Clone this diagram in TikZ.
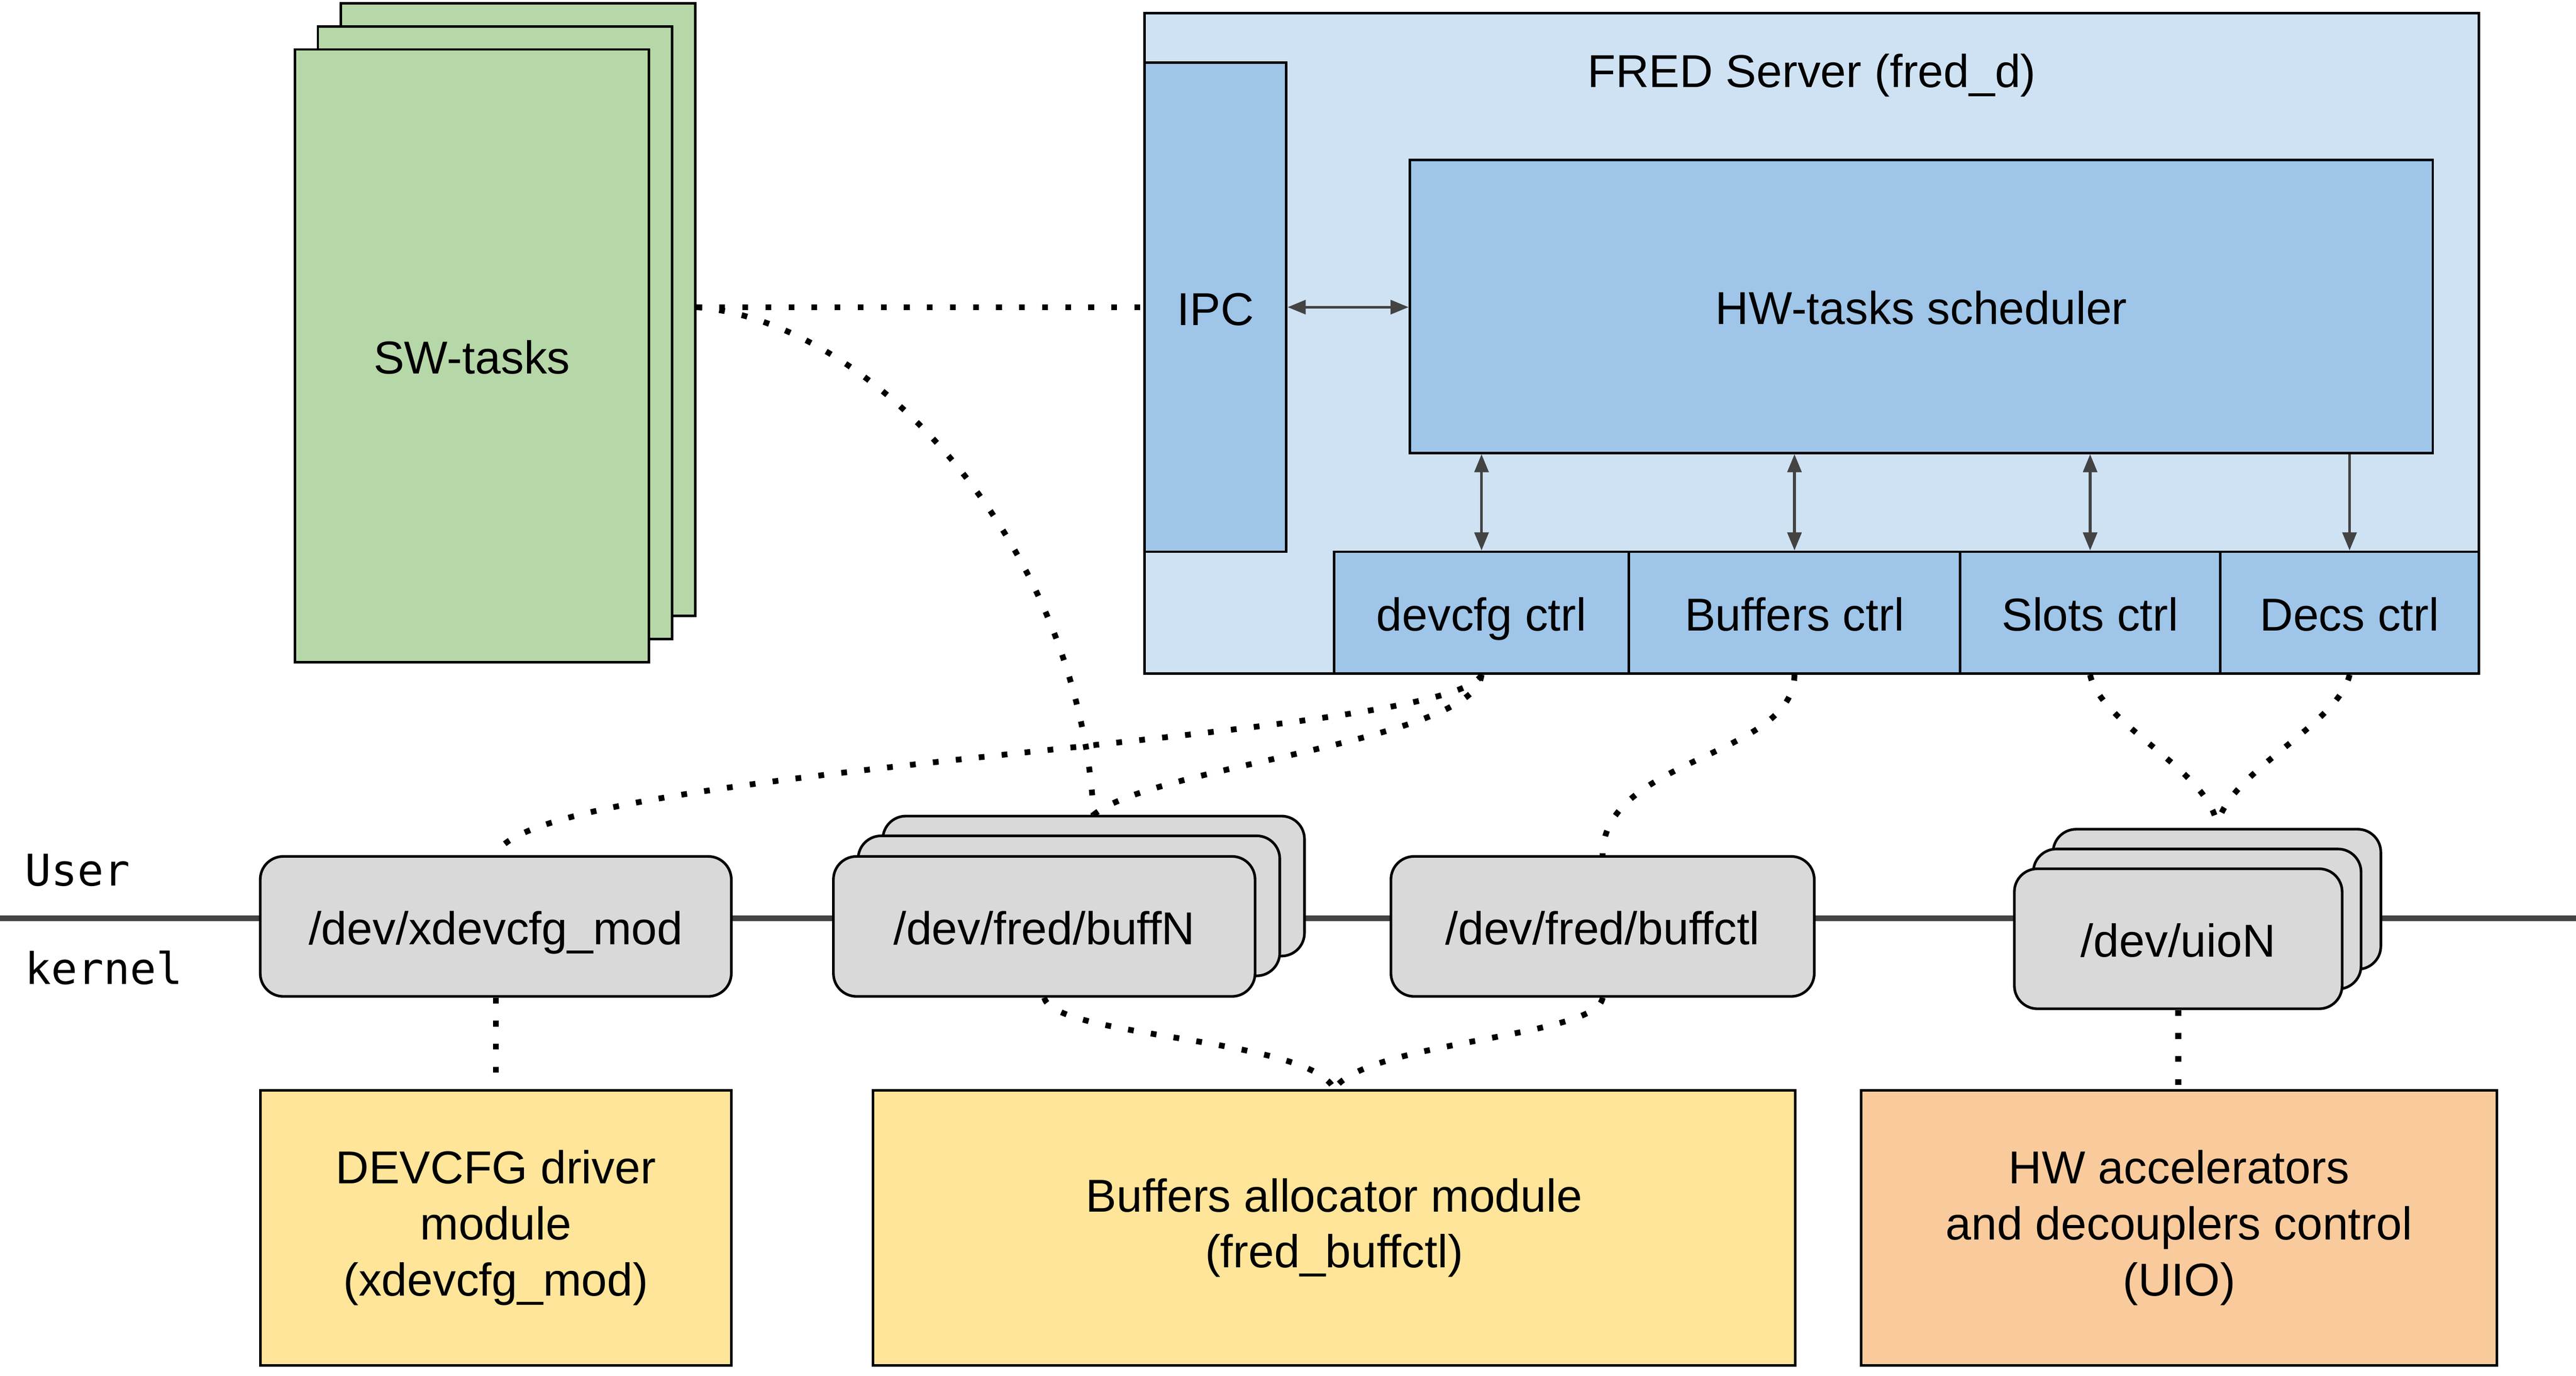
\documentclass[tikz,border=0pt]{standalone}
\usepackage{fontspec}
\setmainfont{Liberation Sans}
\setmonofont{DejaVu Sans Mono}
\usepackage{tikz, xcolor}
\usetikzlibrary{shapes,arrows.meta}
\definecolor{srvblue}{HTML}{CFE2F3}
\definecolor{modblue}{HTML}{9FC5E8}
\definecolor{swgreen}{HTML}{B6D7A8}
\definecolor{devgray}{HTML}{D9D9D9}
\definecolor{modyellow}{HTML}{FFE599}
\definecolor{hworange}{HTML}{F9CB9C}
\definecolor{arrgray}{HTML}{434343}

\begin{document}
\begin{tikzpicture}[x=1pt, y=-1pt, >={Triangle[length=11pt,width=8.5pt]}, font=\fontsize{28}{34}\selectfont]
\tikzstyle{boxr}=[rectangle, draw=black, line width=1.5pt, inner sep=0pt, text height=27pt, text depth=5pt]
\tikzstyle{boxm}=[rectangle, draw=black, line width=1.5pt, inner sep=0pt, align=center, minimum height=167pt]
\tikzstyle{boxd}=[rectangle, rounded corners=14pt, draw=black, line width=1.6pt, fill=devgray, inner sep=0pt, minimum height=85pt, text height=27pt, text depth=5pt]
\tikzstyle{monotext}=[anchor=base west, inner sep=0pt, font=\ttfamily\fontsize{26.5}{30}\selectfont]
\tikzstyle{dotstyle}=[line width=3.5pt, dash pattern=on 3.5pt off 10.5pt]
\tikzstyle{drawstyle}=[line width=1.7pt, draw=arrgray]
\tikzstyle{kline}=[line width=3.5pt, draw=arrgray]

\useasboundingbox (0,0) rectangle (1564,835.3);

\coordinate (Lw) at (0,557.5);
\coordinate (Le) at (1564,557.5);
\draw[kline] (Lw) -- (Le);
\node[monotext] (User) at (15,538) {User};
\node[monotext] (Kern) at (15,597.5) {kernel};

\node[boxr, fill=swgreen, minimum width=215pt, minimum height=372pt] (Sw2) at (314.5,188) {};
\node[boxr, fill=swgreen, minimum width=215pt, minimum height=372pt] (Sw1) at (300.5,202) {};
\node[boxr, fill=swgreen, minimum width=215pt, minimum height=372pt] (Sw0) at (286.5,216) {SW-tasks};

\node[boxr, fill=srvblue, minimum width=810pt, minimum height=401pt] (Srv) at (1100,208.5) {};
\node[inner sep=0pt, text height=27pt, text depth=5pt] (Srvt) at (1100,42) {FRED Server (fred\_d)};
\node[boxr, fill=modblue, minimum width=86pt, minimum height=297pt] (Ipc) at (738,186.5) {IPC};
\node[boxr, fill=modblue, minimum width=621pt, minimum height=178pt] (Sch) at (1166.5,186) {HW-tasks scheduler};
\node[boxr, fill=modblue, minimum width=179pt, minimum height=74pt] (Ctl0) at (899.5,372) {devcfg ctrl};
\node[boxr, fill=modblue, minimum width=201pt, minimum height=74pt] (Ctl1) at (1089.5,372) {Buffers ctrl};
\node[boxr, fill=modblue, minimum width=158pt, minimum height=74pt] (Ctl2) at (1269,372) {Slots ctrl};
\node[boxr, fill=modblue, minimum width=157pt, minimum height=74pt] (Ctl3) at (1426.5,372) {Decs ctrl};
\draw[drawstyle, <->] (Ipc.east) -- (Ipc.east -| Sch.west);
\draw[drawstyle, <->] (Ctl0.north |- Sch.south) -- (Ctl0.north);
\draw[drawstyle, <->] (Ctl1.north |- Sch.south) -- (Ctl1.north);
\draw[drawstyle, <->] (Ctl2.north |- Sch.south) -- (Ctl2.north);
\draw[drawstyle, ->] (Ctl3.north |- Sch.south) -- (Ctl3.north);

\node[boxd, minimum width=286pt] (Dxd) at (301,562.5) {/dev/xdevcfg\_mod};
\node[boxd, minimum width=256pt] (Bfn2) at (664,538) {};
\node[boxd, minimum width=256pt] (Bfn1) at (649,550) {};
\node[boxd, minimum width=256pt] (Bfn0) at (634,562.5) {/dev/fred/buffN};
\node[boxd, minimum width=257pt] (Dbc) at (973,562.5) {/dev/fred/buffctl};
\node[boxd, minimum width=199pt] (Uio2) at (1346,546) {};
\node[boxd, minimum width=199pt] (Uio1) at (1334,558) {};
\node[boxd, minimum width=199pt] (Uio0) at (1322.5,570) {/dev/uioN};

\node[boxm, fill=modyellow, minimum width=286pt] (Drv) at (301,745.5) {DEVCFG driver\\module\\(xdevcfg\_mod)};
\node[boxm, fill=modyellow, minimum width=560pt] (Alc) at (810,745.5) {Buffers allocator module\\(fred\_buffctl)};
\node[boxm, fill=hworange, minimum width=386pt] (Hwa) at (1323,745.5) {HW accelerators\\and decouplers control\\(UIO)};

\draw[dotstyle] (Sw2.east |- Ipc.west) -- (Ipc.west);
\draw[dotstyle] (Sw2.east |- Ipc.west) .. controls (530,195) and (655,330) .. (Bfn2.north);
\draw[dotstyle] (Ctl0.south) .. controls (880,450) and (320,465) .. (Dxd.north);
\draw[dotstyle] (Ctl0.south) .. controls (895,450) and (700,465) .. (Bfn2.north);
\draw[dotstyle] (Ctl1.south) .. controls (1089,460) and (973,460) .. (Dbc.north);
\draw[dotstyle] (Ctl2.south) .. controls (1275,440) and (1345,470) .. (Uio2.north);
\draw[dotstyle] (Ctl3.south) .. controls (1420,440) and (1350,470) .. (Uio2.north);
\draw[dotstyle] (Dxd.south) -- (Drv.north);
\draw[dotstyle] (Bfn0.south) .. controls (640,630) and (795,630) .. (Alc.north);
\draw[dotstyle] (Dbc.south) .. controls (970,630) and (830,632) .. (Alc.north);
\draw[dotstyle] (Uio0.south) -- (Uio0.south |- Hwa.north);
\end{tikzpicture}
\end{document}
